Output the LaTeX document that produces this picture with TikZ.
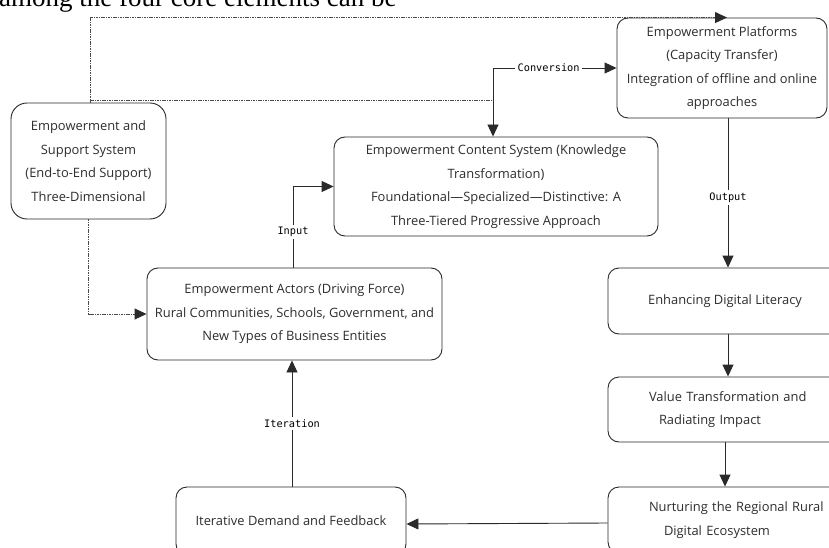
\documentclass[tikz,border=0pt]{standalone}
\usepackage{fontspec}
\setmainfont{Open Sans}
\newfontfamily\serifbody{Liberation Serif}
\newfontfamily\lblfont{DejaVu Sans Mono}
\usetikzlibrary{arrows.meta,calc}
\definecolor{txt}{HTML}{2E2E2E}
\definecolor{ln}{HTML}{2A2A2A}
\tikzset{
  box/.style={draw=ln, line width=0.9pt, rounded corners=11pt, align=center, text=txt,
    font={\fontsize{12.9}{23.5}\selectfont}, inner sep=0pt},
  tip/.style={-{Triangle[length=12pt,width=11pt,color=ln]}},
  conn/.style={draw=ln, line width=0.9pt, tip},
  dotconn/.style={draw=ln!85, line width=0.9pt, dash pattern=on 1.6pt off 0.8pt},
  lbl/.style={fill=white, text=black, font={\lblfont\fontsize{10.3}{12}\selectfont}, inner sep=2.5pt}
}
\begin{document}
\begin{tikzpicture}[x=1pt,y=-1pt]
\useasboundingbox (0,0) rectangle (829,548);
\clip (0,0) rectangle (829,548);
\fill[white] (0,0) rectangle (829,548);
% cut-off caption text
\node[anchor=base west, inner sep=0pt, font={\serifbody\fontsize{27}{29}\selectfont}] (cap) at (-1,7) {among the four core elements can be};
% boxes
\node[box, rounded corners=16pt, minimum width=155pt, minimum height=116pt] (sup) at (88.5,161)
  {Empowerment and\\Support System\\(End-to-End Support)\\Three-Dimensional};
\node[box, minimum width=210pt, minimum height=100pt] (plat) at (722,68)
  {Empowerment Platforms\\(Capacity Transfer)\\Integration of offline and online\\approaches};
\node[box, minimum width=324pt, minimum height=99pt] (cont) at (496,186.5)
  {Empowerment Content System (Knowledge\\Transformation)\\Foundational---Specialized---Distinctive: A\\Three-Tiered Progressive Approach};
\node[box, minimum width=295pt, minimum height=92pt] (act) at (294.5,314)
  {Empowerment Actors (Driving Force)\\Rural Communities, Schools, Government, and\\New Types of Business Entities};
\node[box, minimum width=234pt, minimum height=66pt] (lit) at (725,301)
  {Enhancing Digital Literacy};
\node[box, align=left, minimum width=234pt, minimum height=65pt, text width=234pt] (val) at (725,409.5)
  {\hspace*{41pt}Value Transformation and\\\hspace*{51pt}Radiating Impact};
\node[box, align=left, minimum width=234pt, minimum height=66pt, text width=234pt] (nur) at (725,520)
  {\hspace*{41pt}Nurturing the Regional Rural\\\hspace*{56pt}Digital Ecosystem};
\node[box, minimum width=230pt, minimum height=68pt] (itr) at (291,521)
  {Iterative Demand and Feedback};
% junction coordinates
\coordinate (cv) at (493,68);
\coordinate (j1) at (493,100);
\coordinate (d2s) at (90,100);
% dotted connectors
\draw[dotconn, tip] ([xshift=1.5pt]sup.north) |- ([xshift=5pt]plat.north);
\draw[dotconn] (d2s) -- (j1);
\draw[dotconn, tip] (sup.south) |- (act.west);
% conversion
\draw[conn, {Triangle[length=12pt,width=11pt]}-{Triangle[length=12pt,width=11pt]}] (cont.north -| cv) -- (cv) -- (cv -| plat.west)
  node[lbl, pos=0.45] {Conversion};
% input
\draw[conn] ([xshift=-1.5pt]act.north) |- (cont.west) node[lbl, pos=0.22] {Input};
% output chain
\draw[conn] ([xshift=6pt]plat.south) -- ([xshift=3pt]lit.north) node[lbl, pos=0.53] {Output};
\draw[conn] ([xshift=3pt]lit.south) -- ([xshift=3pt]val.north);
\draw[conn] (val.south) -- (nur.north);
\draw[conn] ([yshift=-3pt]nur.west) -- ([yshift=-3pt]itr.east);
\draw[conn] ([xshift=1pt]itr.north) -- ([xshift=1pt]itr.north |- act.south) node[lbl, midway] {Iteration};
\end{tikzpicture}
\end{document}
